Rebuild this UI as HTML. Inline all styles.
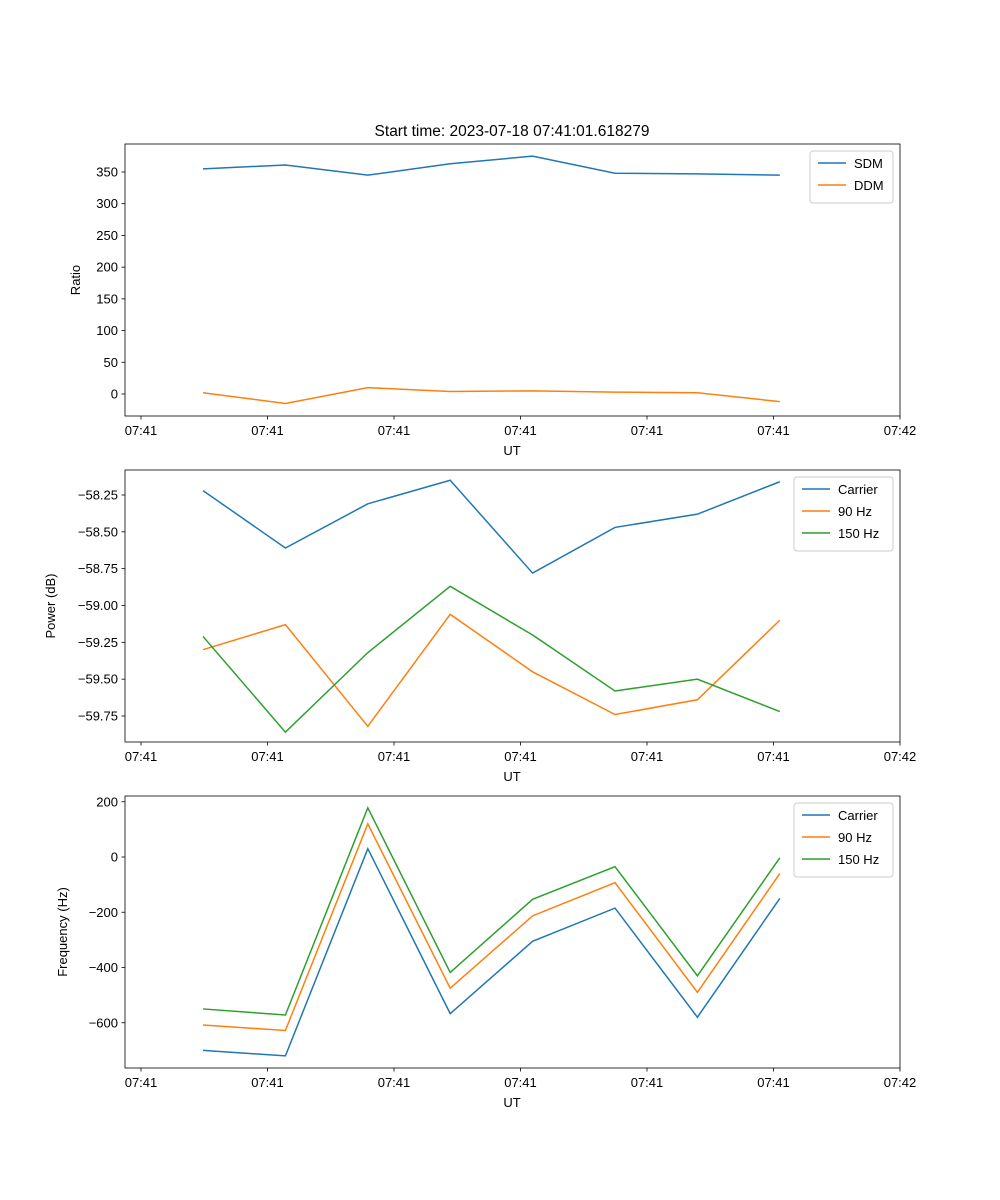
<!DOCTYPE html>
<html><head><meta charset="utf-8"><style>
body{margin:0;background:#fff}
svg{display:block;font-family:"Liberation Sans","DejaVu Sans",sans-serif}
</style></head><body>
<svg id="fig" width="1000" height="1200"></svg>
<script>
const xLabels=["07:41","07:41","07:41","07:41","07:41","07:41","07:42"];
const sdm=[355,361,345,363,375,348,347,345];
const ddm=[2,-15,10,4,5,3,2,-12];
const pCarrier=[-58.22,-58.61,-58.31,-58.15,-58.78,-58.47,-58.38,-58.16];
const p90=[-59.30,-59.13,-59.82,-59.06,-59.45,-59.74,-59.64,-59.10];
const p150=[-59.21,-59.86,-59.32,-58.87,-59.20,-59.58,-59.50,-59.72];
const fCarrier=[-700,-720,30,-567,-305,-185,-580,-150];
const f90=[-608,-628,120,-475,-213,-93,-490,-60];
const f150=[-550,-572,178,-418,-153,-35,-430,-3];
const ratioTicks=[0,50,100,150,200,250,300,350];
const powerTicks=[-59.75,-59.5,-59.25,-59.0,-58.75,-58.5,-58.25];
const freqTicks=[-600,-400,-200,0,200];

const NS="http://www.w3.org/2000/svg";
const svg=document.getElementById('fig');
function el(t,a,p){const e=document.createElementNS(NS,t);for(const k in a)e.setAttribute(k,a[k]);(p||svg).appendChild(e);return e;}
const L=125,R=900;
const xTickPos=[141,267.5,394,520.5,647,773.5,900];
function xs(i){return 203+i*82.4;}
const C=['#1f77b4','#ff7f0e','#2ca02c'];

function panel(name,top,bot,ymap,ticks,fmt,ylab,ylabX,series,legX,legW){
  const g=el('g',{},svg);
  
  
  series.forEach((s,k)=>{
    const pts=s.v.map((v,i)=>xs(i)+','+ymap(v)).join(' ');
    const pl=el('polyline',{points:pts,fill:'none',stroke:C[k],'stroke-width':1.5},g);
    
    
  });
  el('rect',{x:L,y:top,width:R-L,height:bot-top,fill:'none',stroke:'#000','stroke-width':0.8},g);
  ticks.forEach(t=>{const y=ymap(t);
    el('line',{x1:L-3.5,x2:L,y1:y,y2:y,stroke:'#000','stroke-width':0.8},g);
    const tx=el('text',{x:L-7,y:y+4.5,'text-anchor':'end','font-size':13},g);tx.textContent=fmt(t);
    
    
  });
  xLabels.forEach((lb,i)=>{const x=xTickPos[i];
    el('line',{x1:x,x2:x,y1:bot,y2:bot+3.5,stroke:'#000','stroke-width':0.8},g);
    const tx=el('text',{x:x,y:bot+19,'text-anchor':'middle','font-size':13},g);tx.textContent=lb;
    
    
  });
  const xl=el('text',{x:512,y:bot+39,'text-anchor':'middle','font-size':13},g);xl.textContent='UT';
  
  
  const yc=(top+bot)/2;
  const yl=el('text',{x:ylabX,y:yc,'text-anchor':'middle','font-size':13,transform:'rotate(-90 '+ylabX+' '+yc+')'},g);yl.textContent=ylab;
  
  
  const lg=el('g',{},g);
  
  
  const lh=series.length*22+8;
  el('rect',{x:legX,y:top+7,width:legW,height:lh,rx:3,fill:'#fff',stroke:'#ccc','stroke-width':1},lg);
  series.forEach((s,k)=>{const y=top+19+k*22;
    el('line',{x1:legX+8,x2:legX+36,y1:y,y2:y,stroke:C[k],'stroke-width':1.5},lg);
    const t=el('text',{x:legX+44,y:y+5,'font-size':13},lg);t.textContent=s.n;
    
    
  });
}
const tt=el('text',{x:512,y:136,'text-anchor':'middle','font-size':15.5});
tt.textContent='Start time: 2023-07-18 07:41:01.618279';



panel('ratio',144,416,v=>394-v*0.6343,ratioTicks,t=>String(t),'Ratio',80,
  [{n:'SDM',v:sdm},{n:'DDM',v:ddm}],810,83);
panel('power',470,742,v=>495-(v+58.25)*147.33,powerTicks,t=>'\u2212'+Math.abs(t).toFixed(2),'Power (dB)',55,
  [{n:'Carrier',v:pCarrier},{n:'90 Hz',v:p90},{n:'150 Hz',v:p150}],794,99);
panel('frequency',796,1068,v=>857-v*0.27625,freqTicks,t=>t<0?'\u2212'+Math.abs(t):String(t),'Frequency (Hz)',67,
  [{n:'Carrier',v:fCarrier},{n:'90 Hz',v:f90},{n:'150 Hz',v:f150}],794,99);
</script>
</body></html>
